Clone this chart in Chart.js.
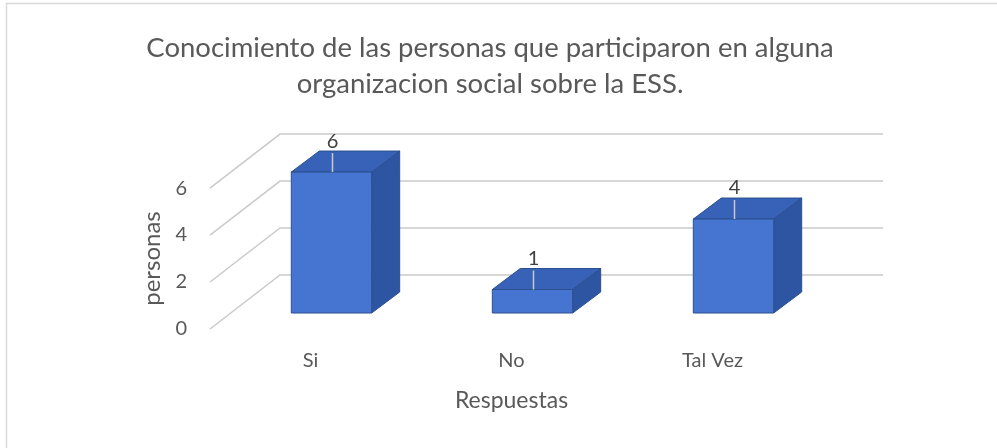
<!DOCTYPE html>
<html>
<head>
<meta charset="utf-8">
<script src="https://cdn.jsdelivr.net/npm/chart.js@4.4.0/dist/chart.umd.min.js"></script>
<style>
  body { margin: 0; background: #fff; }
  #wrap { width: 997px; height: 448px; }
</style>
</head>
<body>
<div id="wrap"><canvas id="barChart"></canvas></div>
<script>
const categories = ["Si", "No", "Tal Vez"];
const personas = [6, 1, 4];
const yTicks = [0, 2, 4, 6];

// 3d look: floor depth, bar offset into the floor, bar depth
const DX = 70, DY = -54;
const FX = 21, FY = -16;
const BX = 28, BY = -21;

function poly(ctx, pts, fill) {
  ctx.beginPath();
  ctx.moveTo(pts[0][0], pts[0][1]);
  for (let k = 1; k < pts.length; k++) ctx.lineTo(pts[k][0], pts[k][1]);
  ctx.closePath();
  ctx.fillStyle = fill;
  ctx.fill();
  ctx.stroke();
}

const box3d = {
  id: "box3d",
  beforeDraw(chart) {
    const ctx = chart.ctx;
    ctx.save();
    ctx.strokeStyle = "#d9d9d9";
    ctx.lineWidth = 1.5;
    ctx.strokeRect(6.5, 3.5, 1000, 460);
    ctx.restore();
  },
  beforeDatasetsDraw(chart) {
    const { ctx, chartArea, scales: { y } } = chart;
    ctx.save();
    ctx.strokeStyle = "#cacaca";
    ctx.lineWidth = 1.5;
    yTicks.forEach(function(v) {
      const py = y.getPixelForValue(v);
      ctx.beginPath();
      ctx.moveTo(chartArea.left, py);
      ctx.lineTo(chartArea.left + DX, py + DY);
      ctx.lineTo(chartArea.right + DX, py + DY);
      ctx.stroke();
    });
    ctx.restore();
  },
  afterDatasetsDraw(chart) {
    const ctx = chart.ctx;
    const meta = chart.getDatasetMeta(0);
    ctx.save();
    meta.data.forEach(function(bar, i) {
      const p = bar.getProps(["x", "y", "base", "width"], true);
      const l = p.x - p.width / 2 + FX, r = p.x + p.width / 2 + FX;
      const t = p.y + FY, b = p.base + FY;
      ctx.lineWidth = 1;
      ctx.strokeStyle = "#2c4f8e";
      poly(ctx, [[l, t], [l + BX, t + BY], [r + BX, t + BY], [r, t]], "#3762b8");
      poly(ctx, [[r, t], [r + BX, t + BY], [r + BX, b + BY], [r, b]], "#2d55a2");
      poly(ctx, [[l, t], [r, t], [r, b], [l, b]], "#4674d1");
      // leader + value label
      const cx = (l + r) / 2 + 1;
      ctx.strokeStyle = "#c8c8c8";
      ctx.lineWidth = 1.5;
      ctx.beginPath();
      ctx.moveTo(cx, t + BY + 2);
      ctx.lineTo(cx, t);
      ctx.stroke();
      ctx.fillStyle = "#404040";
      ctx.font = "20px Lato";
      ctx.textAlign = "center";
      ctx.textBaseline = "middle";
      ctx.fillText(String(personas[i]), cx, t + BY - 10);
    });
    ctx.restore();
  }
};

const ctxBar = document.getElementById("barChart").getContext("2d");
const barChart = new Chart(ctxBar, {
  type: "bar",
  data: {
    labels: categories,
    datasets: [
      {
        label: "personas",
        data: personas,
        backgroundColor: "rgba(0,0,0,0)",
        borderWidth: 0,
        categoryPercentage: 1,
        barPercentage: 0.4
      }
    ]
  },
  options: {
    responsive: true,
    maintainAspectRatio: false,
    animation: false,
    layout: { padding: { left: 137, right: 154, top: 0, bottom: 34 } },
    plugins: {
      legend: { display: false },
      tooltip: { enabled: false },
      title: {
        display: true,
        text: ["Conocimiento de las personas que participaron en alguna", "organizacion social sobre la ESS."],
        color: "#595959",
        font: { family: "Lato", size: 27.5, weight: "normal", lineHeight: 1.31 },
        padding: { top: 30, bottom: 86 }
      }
    },
    scales: {
      x: {
        grid: { display: false, drawTicks: false },
        border: { display: false },
        ticks: { color: "#595959", font: { family: "Lato", size: 20 }, padding: 20 },
        title: {
          display: true,
          text: "Respuestas",
          color: "#595959",
          font: { family: "Lato", size: 23 },
          padding: { top: 0, bottom: 0 }
        },
        afterFit: function(scale) { scale.height = 85; }
      },
      y: {
        min: 0,
        max: 6,
        grid: { display: false, drawTicks: false },
        border: { display: false },
        ticks: { stepSize: 2, color: "#595959", font: { family: "Lato", size: 20 }, padding: 23 },
        title: {
          display: true,
          text: "personas",
          color: "#595959",
          font: { family: "Lato", size: 24 },
          padding: { top: 1, bottom: 0 }
        },
        afterFit: function(scale) { scale.width = 73; }
      },
      y2: {
        position: "right",
        grid: { display: false, drawTicks: false },
        border: { display: false },
        ticks: { display: false },
        afterFit: function(scale) { scale.width = 30; }
      }
    }
  },
  plugins: [box3d]
});
</script>
</body>
</html>
